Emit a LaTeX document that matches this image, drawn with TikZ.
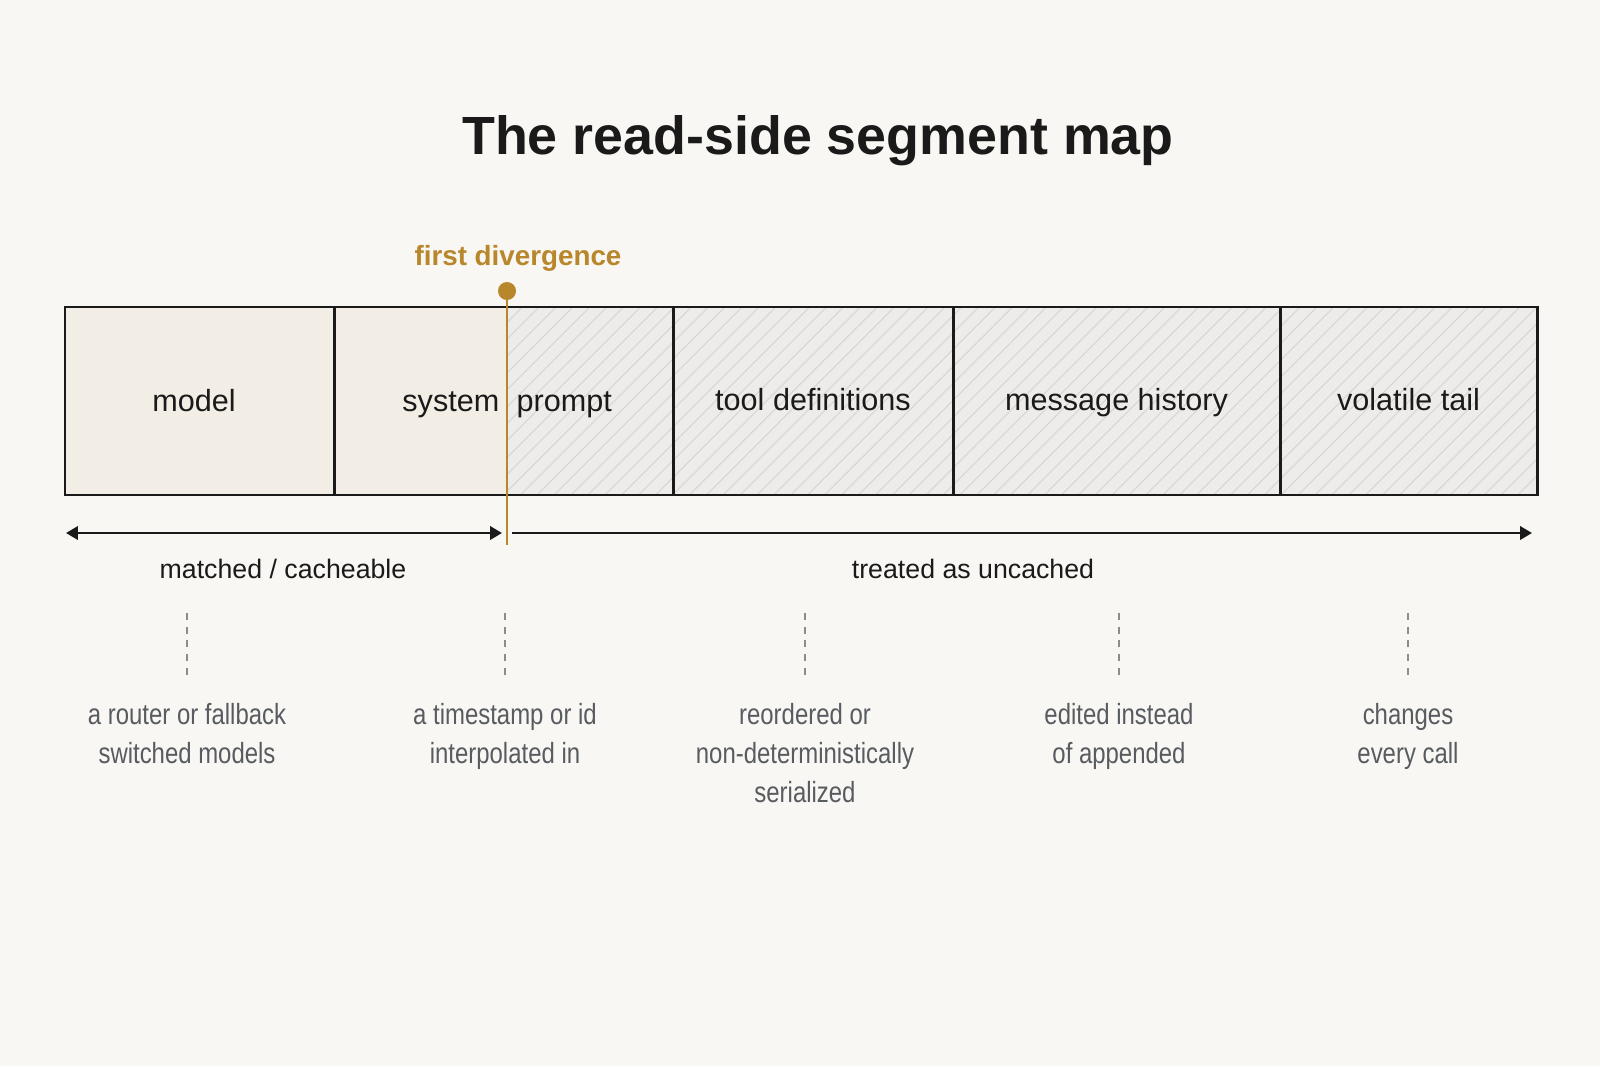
\documentclass[tikz,border=0pt]{standalone}
\usepackage{xcolor}
\usepackage{fontspec}
\setmainfont{Liberation Sans}
\newfontfamily\narrowfont{Liberation Sans}[FakeStretch=0.82]
\usepackage{tikz}
\usetikzlibrary{arrows.meta,patterns.meta,positioning}

\definecolor{paper}{HTML}{F9F7F3}
\definecolor{cachefill}{HTML}{F3EEE5}
\definecolor{hatchbg}{HTML}{EDECEA}
\definecolor{hatchline}{HTML}{D8D6D2}
\definecolor{accent}{HTML}{B8862B}
\definecolor{ink}{HTML}{1A1A1A}
\definecolor{notegray}{HTML}{585B60}
\definecolor{leadergray}{HTML}{8C8C8C}

\tikzset{
  seg/.style={draw=ink, line width=0.8pt, rectangle, inner sep=0pt,
    minimum height=1.88cm, text=ink,
    font=\fontsize{8.7}{10}\selectfont, text height=0.73em, text depth=0.21em},
  hatched/.style={preaction={fill=hatchbg},
    pattern={Lines[angle=45,distance=3.4pt,line width=0.3pt]},
    pattern color=hatchline},
  seglabel/.style={inner sep=0pt, text=ink, font=\fontsize{8.7}{10}\selectfont},
  spanarrow/.style={draw=ink, line width=0.7pt,
    arrows={Triangle[length=3.4pt,width=3.8pt]-Triangle[length=3.4pt,width=3.8pt]}},
  spanlabel/.style={inner sep=0pt, text=ink, font=\fontsize{7.6}{9}\selectfont},
  leader/.style={draw=leadergray, line width=0.35pt, dash pattern=on 2pt off 1.9pt,
    shorten >=0.26cm},
  note/.style={anchor=north, inner sep=0pt, align=center, text=notegray,
    font=\narrowfont\fontsize{8.3}{11}\selectfont},
  dot/.style={circle, fill=accent, inner sep=0pt, minimum size=0.18cm}
}

\begin{document}
\begin{tikzpicture}[x=0.01cm,y=-0.01cm]
    % Page
    \fill[paper] (0,0) rectangle (1600,1066);
    \useasboundingbox (0,0) rectangle (1600,1066);

    % Title
    \node[inner sep=0pt, anchor=base, text=ink, font=\bfseries\fontsize{15.3}{18}\selectfont]
        (title) at (818,154) {The read-side segment map};

    % Segment backgrounds
    \fill[cachefill] (65,307) rectangle (507,495);
    \fill[hatched] (507,307) rectangle (1537,495);

    % Segments
    \node[seg, minimum width=2.70cm] (model) at (200,401) {};
    \node[seg, minimum width=3.38cm] (sysprompt) at (504,401) {};
    \node[seg, minimum width=2.80cm] (tooldefs) at (813,401) {tool definitions};
    \node[seg, minimum width=3.27cm] (history) at (1116.5,401) {message history};
    \node[seg, minimum width=2.57cm] (tail) at (1408.5,401) {volatile tail};
    \node[seglabel, anchor=base] (modeltxt) at (194,411) {model};
    \node[seglabel, anchor=base east] (systxt) at (500,411) {system};
    \node[seglabel, anchor=base west] (prompttxt) at (516,411) {prompt};

    % First divergence marker
    \node[inner sep=0pt, anchor=base, text=accent, font=\bfseries\fontsize{7.9}{9}\selectfont]
        (divtxt) at (518,265) {first divergence};
    \node[dot] (div) at (507,291) {};
    \coordinate (divend) at (507,545);
    \draw[accent, line width=0.8pt] (div.center) -- (divend);

    % Spans
    \coordinate (cacheL) at (66,533);
    \coordinate (cacheR) at (502,533);
    \coordinate (uncL) at (512,533);
    \coordinate (uncR) at (1532,533);
    \draw[spanarrow] (cacheL) -- (cacheR);
    \draw[spanarrow, arrows={-Triangle[length=3.4pt,width=3.8pt]}] (uncL) -- (uncR);
    \node[spanlabel, anchor=base] (cachetxt) at (283,578) {matched / cacheable};
    \node[spanlabel, anchor=base] (unctxt) at (973,578) {treated as uncached};

    % Causes
    \node[note] (why1) at (187,703) {a router or fallback\\switched models};
    \node[note] (why2) at (505,703) {a timestamp or id\\interpolated in};
    \node[note] (why3) at (805,703) {reordered or\\non-deterministically\\serialized};
    \node[note] (why4) at (1119,703) {edited instead\\of appended};
    \node[note] (why5) at (1408,703) {changes\\every call};
    \coordinate (top1) at (187,613);
    \coordinate (top2) at (505,613);
    \coordinate (top3) at (805,613);
    \coordinate (top4) at (1119,613);
    \coordinate (top5) at (1408,613);
    \draw[leader] (top1) -- (why1.north);
    \draw[leader] (top2) -- (why2.north);
    \draw[leader] (top3) -- (why3.north);
    \draw[leader] (top4) -- (why4.north);
    \draw[leader] (top5) -- (why5.north);

\end{tikzpicture}
\end{document}
